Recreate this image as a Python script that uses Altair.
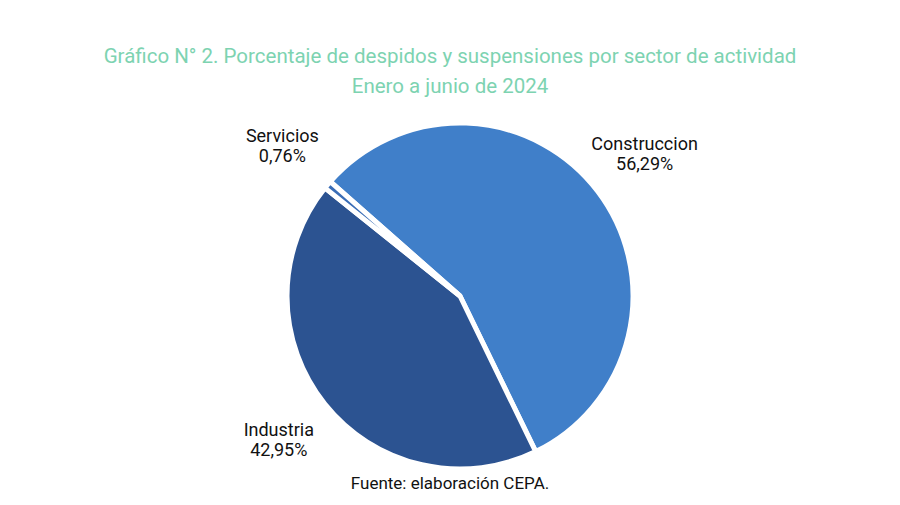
import altair as alt
import pandas as pd
import math

sectores = ["Construccion", "Industria", "Servicios"]
porcentajes = [56.29, 42.95, 0.76]
colores = ["#407FC9", "#2C5391", "#3A6DB6"]
orden = [0, 1, 2]

df = pd.DataFrame({
    "sector": sectores,
    "valor": porcentajes,
    "orden": orden,
})
df["etiqueta"] = [f"{s}\n{v:.2f}".replace(".", ",") + "%" for s, v in zip(sectores, porcentajes)]

start = math.radians(-48.6)
theta_scale = alt.Scale(range=[start, start + 2 * math.pi])

base = alt.Chart(df).encode(
    theta=alt.Theta("valor:Q", stack=True, scale=theta_scale),
    order=alt.Order("orden:Q"),
)

arcs = base.mark_arc(outerRadius=173, stroke="white", strokeWidth=5).encode(
    color=alt.Color("sector:N", scale=alt.Scale(domain=sectores, range=colores), legend=None)
)

labels = base.mark_text(radius=232, font="Roboto", fontSize=18, color="#111111", dy=-10,
                        lineBreak="\n", lineHeight=20, align="center", baseline="middle").encode(
    text="etiqueta:N"
)

fuente = alt.Chart(pd.DataFrame({"t": ["Fuente: elaboración CEPA."]})).mark_text(
    font="Roboto", fontSize=17, color="#111111", align="center", baseline="middle"
).encode(text="t:N", x=alt.value(422), y=alt.value(386))

chart = alt.layer(arcs, labels, fuente).properties(
    width=864,
    height=396,
    padding={"top": 38, "left": 20, "right": 0, "bottom": 0},
    title=alt.Title(
        ["Gráfico N° 2. Porcentaje de despidos y suspensiones por sector de actividad",
         "Enero a junio de 2024"],
        font="Roboto", fontSize=20.5, fontWeight="normal", color="#7DD3B1",
        lineHeight=30, anchor="middle", dx=-10, offset=1,
    ),
).configure_view(stroke=None)

chart.save("out.html", embed_options={"renderer": "svg", "actions": False})
